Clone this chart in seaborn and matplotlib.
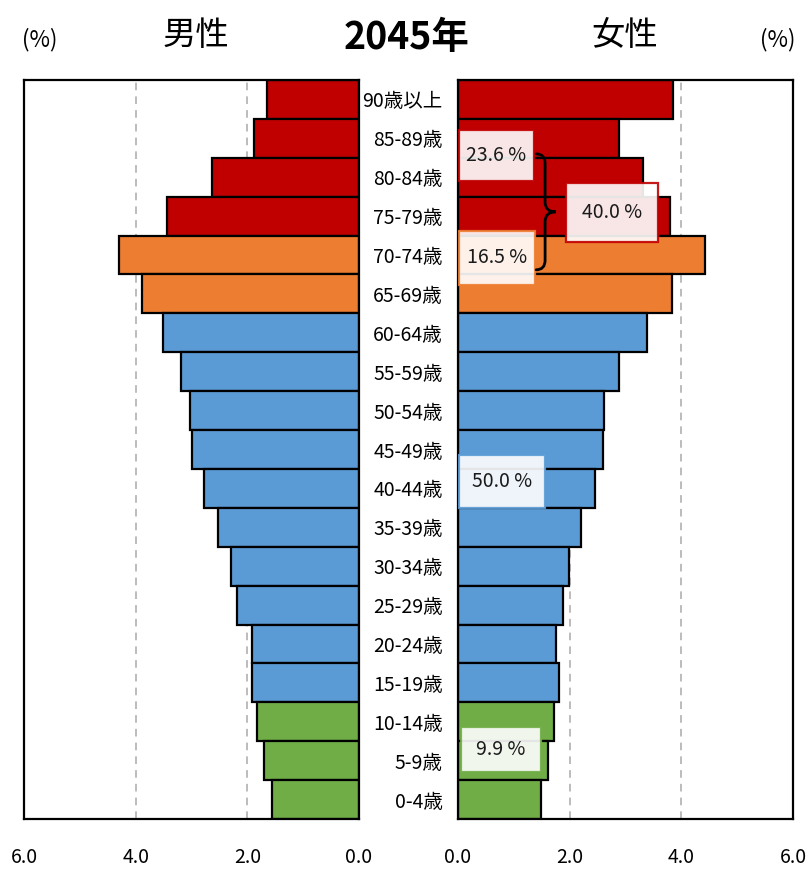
import numpy as np
import pandas as pd
import matplotlib.pyplot as plt
from matplotlib.patches import Rectangle, PathPatch
from matplotlib.path import Path
import seaborn as sns

sns.set_style('white')
plt.rcParams['font.family'] = ['Noto Sans CJK JP', 'DejaVu Sans']
plt.rcParams['text.color'] = 'black'
plt.rcParams['xtick.color'] = 'black'
plt.rcParams['ytick.color'] = 'black'

# datos (%), de arriba hacia abajo
edades = ['90歳以上', '85-89歳', '80-84歳', '75-79歳', '70-74歳', '65-69歳',
          '60-64歳', '55-59歳', '50-54歳', '45-49歳', '40-44歳', '35-39歳',
          '30-34歳', '25-29歳', '20-24歳', '15-19歳', '10-14歳', '5-9歳', '0-4歳']
hombres = [1.65, 1.88, 2.63, 3.44, 4.30, 3.88, 3.51, 3.18, 3.02, 2.99,
           2.78, 2.53, 2.30, 2.19, 1.91, 1.91, 1.83, 1.70, 1.55]
mujeres = [3.85, 2.89, 3.32, 3.79, 4.43, 3.83, 3.38, 2.89, 2.62, 2.60,
           2.45, 2.20, 1.99, 1.88, 1.75, 1.80, 1.72, 1.61, 1.49]
grupos = ['75+'] * 4 + ['65-74'] * 2 + ['15-64'] * 10 + ['0-14'] * 3
colores_grupo = {'75+': '#C00000', '65-74': '#ED7D31',
                 '15-64': '#5B9BD5', '0-14': '#70AD47'}

# cuadros de porcentaje (texto, grupo)
etiquetas = ['23.6 %', '16.5 %', '40.0 %', '50.0 %', '9.9 %']
etiqueta_grupo = ['75+', '65-74', '75+', '15-64', '0-14']
# posición de cada cuadro en el eje derecho: (x0, y0, ancho, alto)
cuadros = [(0.02, 0.78, 1.34, 1.31), (0.02, 3.37, 1.36, 1.41),
           (1.93, 2.14, 1.65, 1.52), (0.02, 9.14, 1.54, 1.36),
           (0.05, 16.13, 1.44, 1.16)]

df = pd.DataFrame({'edad': edades, 'hombres': hombres,
                   'mujeres': mujeres, 'grupo': grupos})
paleta = [colores_grupo[g] for g in grupos]

fig = plt.figure(figsize=(8.1, 8.73), dpi=100)
ax_l = fig.add_axes([24 / 810, 1 - 819 / 873, 335 / 810, 739 / 873])
ax_r = fig.add_axes([458 / 810, 1 - 819 / 873, 335 / 810, 739 / 873])

for ax, col in [(ax_l, 'hombres'), (ax_r, 'mujeres')]:
    sns.barplot(data=df, x=col, y='edad', hue='edad', palette=paleta,
                legend=False, orient='h', width=1.0, saturation=1,
                edgecolor='black', linewidth=1.6, ax=ax)
    ax.set_axisbelow(True)
    ax.grid(axis='x', linestyle=(0, (5, 4)), color='#AAAAAA', linewidth=1.1)
    ax.grid(axis='y', visible=False)
    ax.set_xticks([0, 2, 4, 6])
    ax.set_xticklabels(['0.0', '2.0', '4.0', '6.0'])
    ax.tick_params(axis='x', length=0, pad=20, labelsize=14)
    ax.set_xlabel('')
    ax.set_ylabel('')
    ax.set_ylim(len(edades) - 0.5, -0.5)
    for s in ax.spines.values():
        s.set_visible(True)
        s.set_color('black')
        s.set_linewidth(1.6)

ax_l.set_xlim(6, 0)
ax_l.set_yticks([])
ax_r.set_xlim(0, 6)
ax_r.tick_params(axis='y', length=0, pad=11, labelsize=14)

# cuadros de porcentaje
for (x0, y0, w, h), txt, g in zip(cuadros, etiquetas, etiqueta_grupo):
    ax_r.add_patch(Rectangle((x0, y0), w, h, facecolor='white', alpha=0.9,
                             edgecolor=colores_grupo[g], linewidth=1.6,
                             zorder=5))
    ax_r.text(x0 + w / 2, y0 + h / 2, txt, ha='center', va='center',
              fontsize=14, color='#1a1a1a', zorder=6)

# llave
xe, xs, xt = 1.40, 1.56, 1.75
yt, ym, yb, r = 1.40, 2.89, 4.38, 0.25
verts = [(xe, yt), (xs, yt), (xs, yt + r), (xs, ym - r), (xs, ym), (xt, ym),
         (xs, ym), (xs, ym + r), (xs, yb - r), (xs, yb), (xe, yb)]
codes = [Path.MOVETO, Path.CURVE3, Path.CURVE3, Path.LINETO, Path.CURVE3,
         Path.CURVE3, Path.CURVE3, Path.CURVE3, Path.LINETO, Path.CURVE3,
         Path.CURVE3]
ax_r.add_patch(PathPatch(Path(verts, codes), facecolor='none',
                         edgecolor='black', linewidth=2, zorder=7,
                         capstyle='round'))

# títulos
fig.text(407 / 810, 1 - 38 / 873, '2045年', ha='center', va='center',
         fontsize=27, fontweight='bold')
fig.text(196 / 810, 1 - 36 / 873, '男性', ha='center', va='center', fontsize=24)
fig.text(625 / 810, 1 - 36 / 873, '女性', ha='center', va='center', fontsize=24)
fig.text(40 / 810, 1 - 40 / 873, '(%)', ha='center', va='center', fontsize=16)
fig.text(778 / 810, 1 - 40 / 873, '(%)', ha='center', va='center', fontsize=16)

fig.savefig('out.png', dpi=100)
